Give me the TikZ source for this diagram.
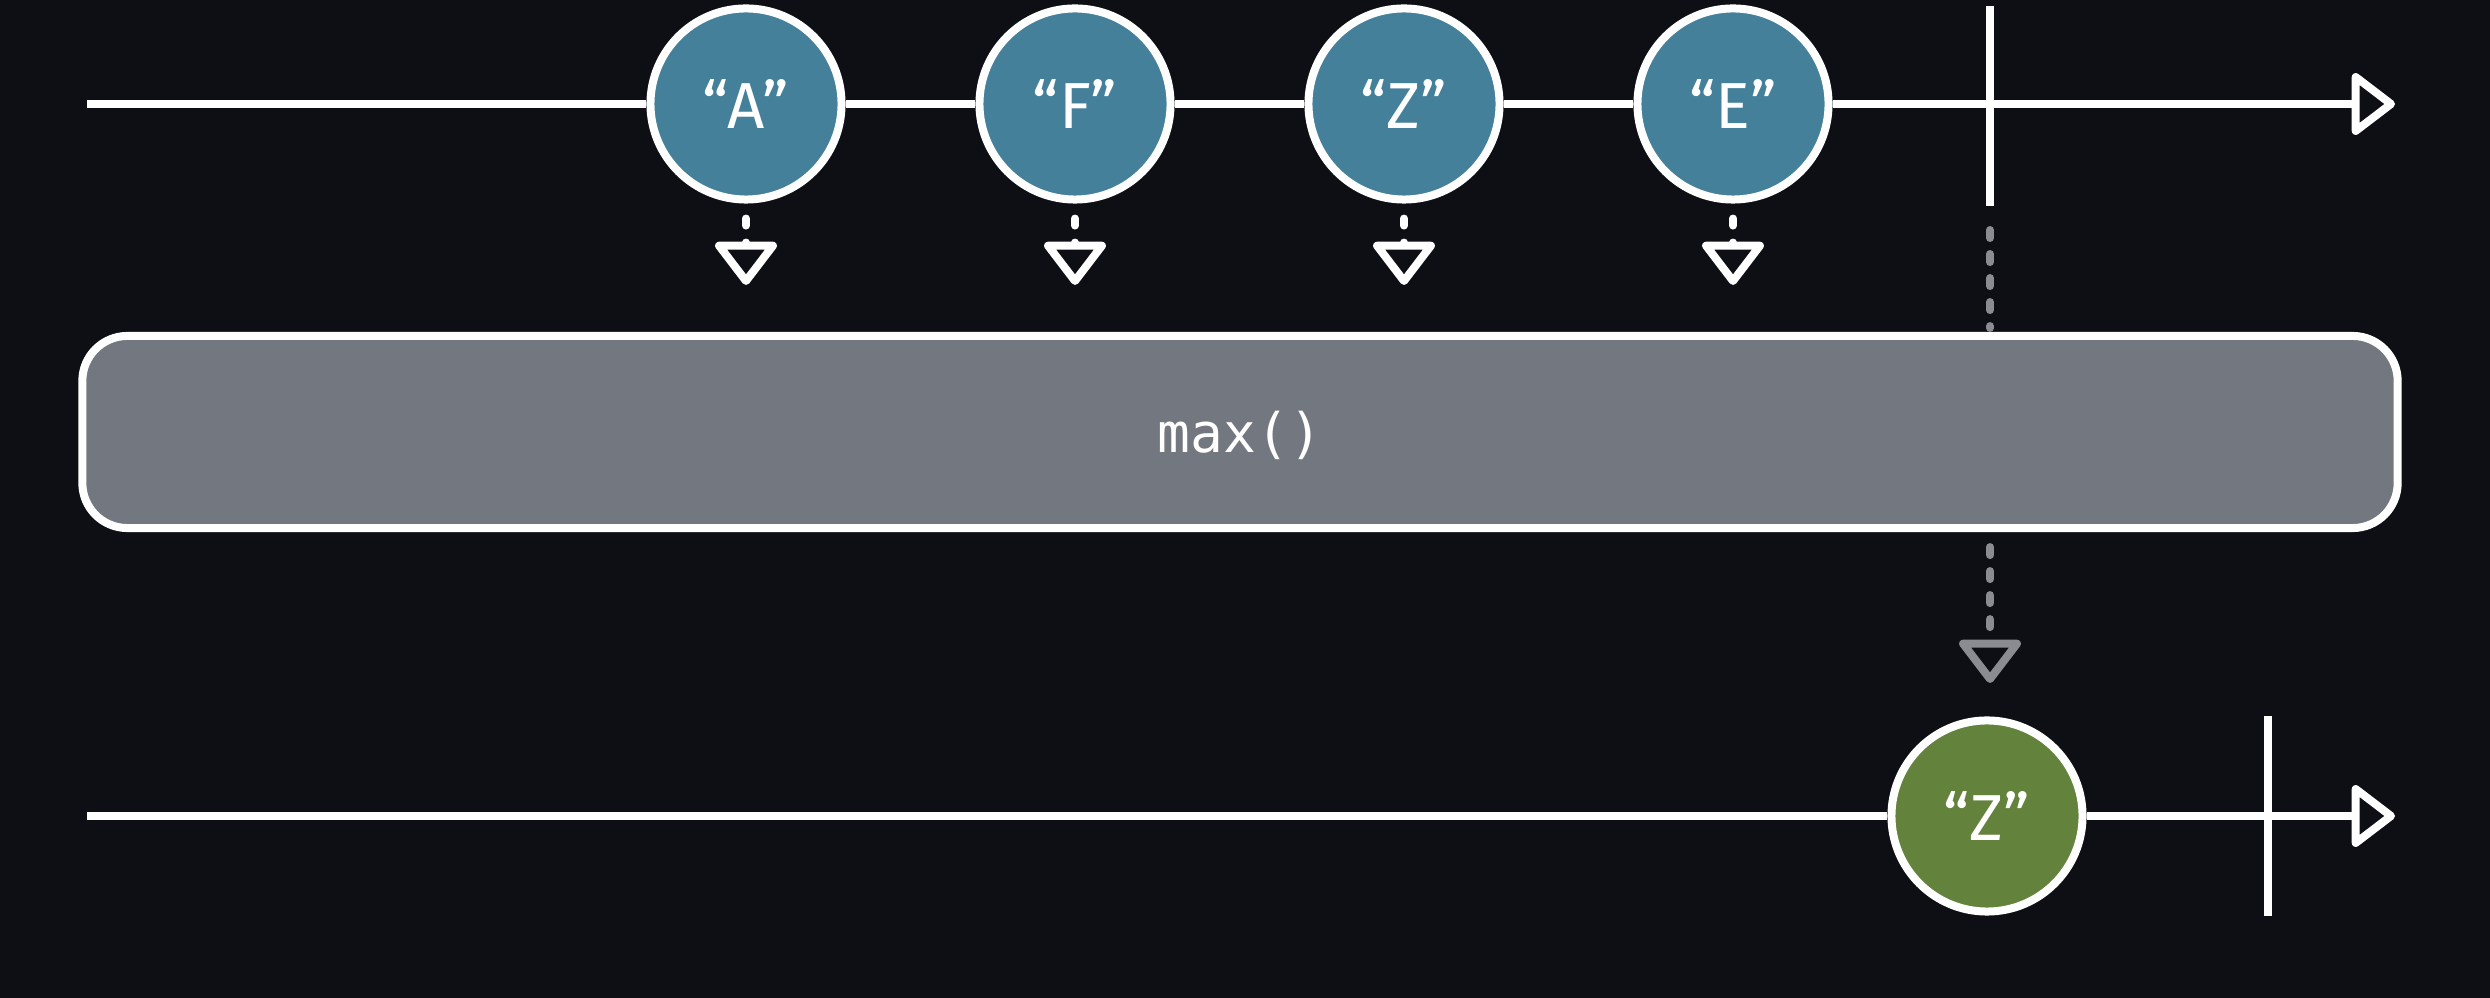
\documentclass[tikz,border=0pt]{standalone}
\usepackage{fontspec}
\setmainfont{Fira Sans}
\newfontfamily\codefont{DejaVu Sans Mono}
\usetikzlibrary{arrows.meta}

\definecolor{bgdark}{HTML}{0E0F14}
\definecolor{marbleblue}{HTML}{45809B}
\definecolor{marblegreen}{HTML}{63823C}
\definecolor{opgray}{HTML}{737780}
\definecolor{passgray}{HTML}{8A8C91}

\begin{document}
\begin{tikzpicture}[x = 0.01cm, y = -0.01cm]
		\tikzstyle{every node} = [font = \fontsize{18.5}{22}\selectfont, text = white]
		\tikzstyle{tip} = [-{Triangle[open, round, length = 0.46cm, width = 0.68cm]}]
		\tikzstyle{timeline} = [white, line width = 0.08cm, tip]
		\tikzstyle{tick} = [white, line width = 0.085cm]
		\tikzstyle{marble} = [circle, draw = white, line width = 0.08cm, minimum size = 1.91cm, inner sep = 0pt]
		\tikzstyle{emit} = [white, line width = 0.08cm, line cap = round, dash pattern = on 0.07cm off 0.17cm, shorten < = 0.15cm, tip]
		\tikzstyle{pass} = [passgray, line width = 0.08cm, line cap = round, dash pattern = on 0.08cm off 0.16cm]
		\tikzstyle{opbox} = [draw = white, fill = opgray, line width = 0.08cm, rounded corners = 0.45cm, minimum width = 23.14cm, minimum height = 1.92cm, text depth = 0pt]

		\fill[bgdark] (0,0) rectangle (2490,998);

		% source
		\coordinate (s1) at (87,104);
		\coordinate (e1) at (2395,104);
		\foreach \x/\lbl [count = \i] in {746/A, 1075/F, 1404/Z, 1733/E}
		{
			\node[marble, fill = marbleblue] (c\i) at (\x,104) {“\lbl”};
			\coordinate (t\i) at (\x,285);
		}
		\draw[timeline] (s1) -- (c1) -- (c2) -- (c3) -- (c4) -- (e1);
		\coordinate (k1t) at (1990,6);
		\coordinate (k1b) at (1990,206);
		\draw[tick] (k1t) -- (k1b); %complete

		\foreach \i in {1,...,4}
		{
			\draw[emit] (c\i.south) -- (t\i);
		}

		% operator
		\node[opbox] (op) at (1240,432) {\codefont\fontsize{15.5}{18}\selectfont max()};
		\draw[pass, shorten < = 0.24cm, shorten > = 0.04cm] (k1b) -- (k1b |- op.north);

		% result
		\coordinate (s2) at (87,816);
		\coordinate (e2) at (2395,816);
		\coordinate (o1) at (1990,683);
		\node[marble, fill = marblegreen] (r1) at (1987,816) {“Z”};
		\draw[pass, shorten < = 0.15cm, tip] (op.south -| k1b) -- (o1);
		\draw[timeline] (s2) -- (r1) -- (e2);
		\coordinate (k2t) at (2268,716);
		\coordinate (k2b) at (2268,916);
		\draw[tick] (k2t) -- (k2b); %complete
	\end{tikzpicture}
\end{document}
